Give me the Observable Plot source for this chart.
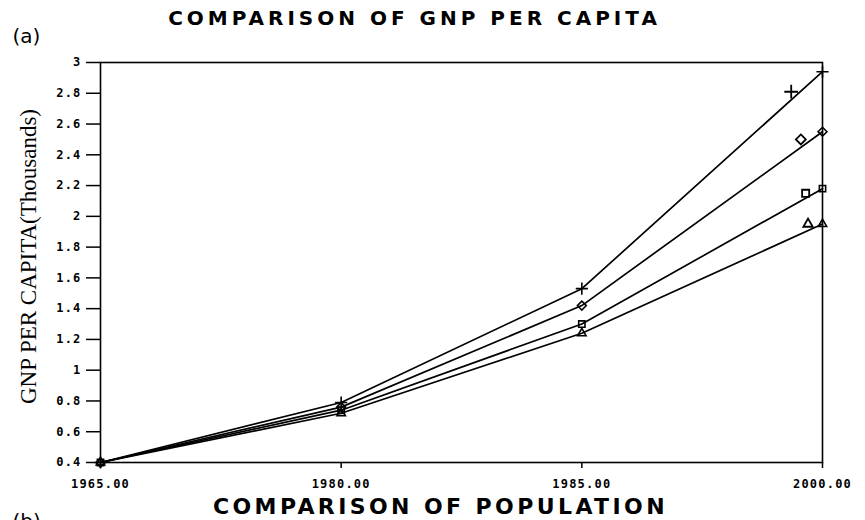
<!DOCTYPE html>
<html>
<head>
<meta charset="utf-8">
<script src="https://cdn.jsdelivr.net/npm/d3@7"></script>
<script src="https://cdn.jsdelivr.net/npm/@observablehq/plot@0.6"></script>
<style>
  html, body { margin: 0; padding: 0; background: #fff; }
  #chart svg { display: block; }
</style>
</head>
<body>
<div id="chart"></div>
<script>
// ---- data ----
const xLabels = ["1965.00", "1980.00", "1985.00", "2000.00"];
const seriesSymbols = ["plus", "diamond2", "square2", "triangle2"];
const plusValues = [0.40, 0.79, 1.53, 2.94];
const diamondValues = [0.40, 0.76, 1.42, 2.55];
const squareValues = [0.40, 0.74, 1.30, 2.18];
const triangleValues = [0.40, 0.72, 1.24, 1.95];
// stray label symbols drawn just left of the 2000 end points (x in category-index units)
const labelMarkX = [2.87, 2.91, 2.93, 2.94];
const labelMarkY = [2.81, 2.50, 2.15, 1.95];
const yTicks = [0.4, 0.6, 0.8, 1, 1.2, 1.4, 1.6, 1.8, 2, 2.2, 2.4, 2.6, 2.8, 3];
const titleText = "COMPARISON OF GNP PER CAPITA";
const yLabelText = "GNP PER CAPITA(Thousands)";
const nextTitleText = "COMPARISON OF POPULATION";

const allValues = [plusValues, diamondValues, squareValues, triangleValues];
const rows = [];
allValues.forEach((vals, s) => vals.forEach((v, i) => rows.push({series: s, symbol: seriesSymbols[s], xi: i, y: v})));
const labelRows = labelMarkX.map((x, s) => ({series: s, symbol: seriesSymbols[s], xi: x, y: labelMarkY[s]}));

const chart = Plot.plot({
  width: 865,
  height: 520,
  marginLeft: 100,
  marginRight: 43,
  marginTop: 62,
  marginBottom: 58,
  style: {fontFamily: "DejaVu Sans", background: "#fff", color: "#000"},
  x: {domain: [0, 3], label: null},
  y: {domain: [0.4, 3], label: null},
  symbol: {type: "identity"},
  marks: [
    Plot.axisX({ticks: [0, 1, 2, 3], tickFormat: i => xLabels[i], tickSize: 6, tickPadding: 11,
      fontSize: 12, fontWeight: "bold", fontFamily: "DejaVu Sans Mono", label: null, strokeWidth: 1.5}),
    Plot.axisY({ticks: yTicks, tickFormat: d => String(+d.toFixed(1)), tickSize: 14, tickPadding: 5,
      fontSize: 12, fontWeight: "bold", fontFamily: "DejaVu Sans Mono", label: null, strokeWidth: 1.5}),
    Plot.frame({stroke: "#000", strokeWidth: 1.6}),
    Plot.line(rows, {x: "xi", y: "y", z: "series", stroke: "#000", strokeWidth: 1.7}),
    Plot.dot(rows, {x: "xi", y: "y", symbol: "symbol", r: 4, stroke: "#000", strokeWidth: 1.6, fill: "none"}),
    Plot.dot(labelRows, {x: "xi", y: "y", symbol: "symbol", r: 4.5, stroke: "#000", strokeWidth: 1.8, fill: "none"}),
    Plot.text([titleText], {frameAnchor: "top", lineAnchor: "middle", text: d => d, dx: -47, dy: -44, fontSize: 20, fontWeight: "bold",
      fontFamily: "DejaVu Sans", fill: "#000"}),
    Plot.text(["(a)"], {frameAnchor: "top-left", lineAnchor: "middle", text: d => d, dx: -88, dy: -26, textAnchor: "start",
      fontSize: 20, fontFamily: "DejaVu Sans", fill: "#000"}),
    Plot.text([yLabelText], {frameAnchor: "left", lineAnchor: "middle", textAnchor: "middle", text: d => d, dx: -72, dy: -6, rotate: -90,
      fontSize: 23, fontFamily: "Liberation Serif", fill: "#000"}),
    Plot.text([nextTitleText], {frameAnchor: "bottom", lineAnchor: "middle", text: d => d, dx: -21, dy: 44, fontSize: 22,
      fontWeight: "bold", fontFamily: "DejaVu Sans", fill: "#000"}),
    Plot.text(["(b)"], {frameAnchor: "bottom-left", lineAnchor: "middle", text: d => d, dx: -88, dy: 59, textAnchor: "start",
      fontSize: 20, fontFamily: "DejaVu Sans", fill: "#000"})
  ]
});
const sel = d3.select(chart);
sel.selectAll("text").filter(function () { return this.textContent === titleText; }).attr("letter-spacing", 4);
sel.selectAll("text").filter(function () { return this.textContent === nextTitleText; }).attr("letter-spacing", 3.4);
sel.selectAll('g[aria-label="x-axis tick label"] text, g[aria-label="y-axis tick label"] text').attr("letter-spacing", 1.2);
document.getElementById("chart").appendChild(chart);
</script>
</body>
</html>
